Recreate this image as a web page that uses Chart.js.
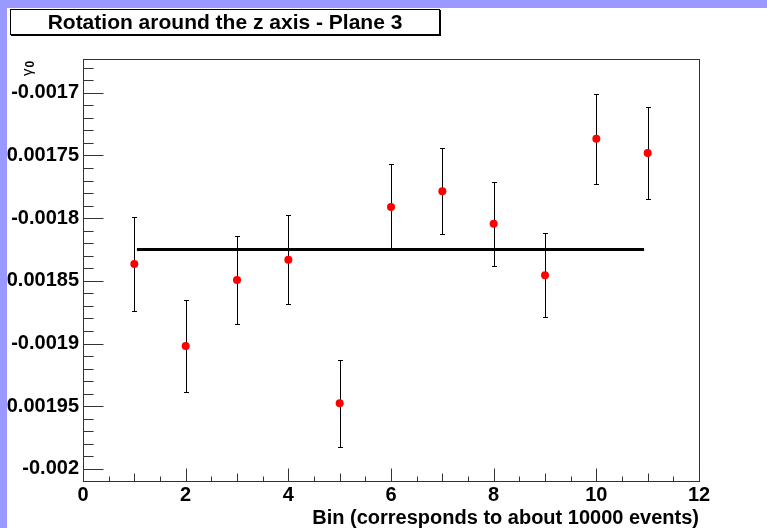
<!DOCTYPE html>
<html><head><meta charset="utf-8">
<script src="https://cdn.jsdelivr.net/npm/chart.js@4.4.1/dist/chart.umd.min.js"></script>
<style>html,body{margin:0;padding:0;background:#fff;overflow:hidden}#wrap{width:767px;height:528px;position:relative}</style>
</head><body><div id="wrap"><canvas id="c" width="767" height="528"></canvas></div>
<script>
// ---- data ----
const bins = [1, 2, 3, 4, 5, 6, 7, 8, 9, 10, 11];
const gamma0 = [-0.0018366, -0.0019019, -0.0018493, -0.0018331, -0.0019476, -0.0017911, -0.0017786, -0.0018044, -0.0018456, -0.0017367, -0.0017481];
const gamma0Err = [0.0000375, 0.0000367, 0.0000350, 0.0000354, 0.0000347, 0.0000340, 0.0000344, 0.0000336, 0.0000335, 0.0000358, 0.0000370];
const fitRange = [1.05, 10.93];
const fitValue = -0.0018251;
const xTicks = [0, 2, 4, 6, 8, 10, 12];
const xTickLabels = ['0', '2', '4', '6', '8', '10', '12'];
const yTicks = [-0.002, -0.00195, -0.0019, -0.00185, -0.0018, -0.00175, -0.0017];
const yTickLabels = ['-0.002', '-0.00195', '-0.0019', '-0.00185', '-0.0018', '-0.00175', '-0.0017'];
const xRange = [0, 12];
const yRange = [-0.0020096, -0.0016731];
const titleText = 'Rotation around the z axis - Plane 3';
const xTitle = 'Bin (corresponds to about 10000 events)';
const yTitleMain = '\u03B3';
const yTitleSub = '0';

const FONT = '"Liberation Sans", Arial, Helvetica, sans-serif';
const LAVENDER = '#9999ff';

const rootStyle = {
  id: 'rootStyle',
  beforeDatasetsDraw(chart) {
    const ctx = chart.ctx, xs = chart.scales.x, ys = chart.scales.y;
    ctx.save();
    ctx.strokeStyle = '#000';
    ctx.lineWidth = 1;
    bins.forEach((b, i) => {
      const px = Math.round(xs.getPixelForValue(b)) + 0.5;
      const y1 = Math.round(ys.getPixelForValue(gamma0[i] + gamma0Err[i])) + 0.5;
      const y2 = Math.round(ys.getPixelForValue(gamma0[i] - gamma0Err[i])) + 0.5;
      ctx.beginPath();
      ctx.moveTo(px, y1); ctx.lineTo(px, y2);
      ctx.moveTo(px - 2.5, y1); ctx.lineTo(px + 2.5, y1);
      ctx.moveTo(px - 2.5, y2); ctx.lineTo(px + 2.5, y2);
      ctx.stroke();
    });
    ctx.restore();
  },
  afterDraw(chart) {
    const ctx = chart.ctx, xs = chart.scales.x, ys = chart.scales.y, a = chart.chartArea;
    ctx.save();
    // frame
    ctx.strokeStyle = '#333';
    ctx.lineWidth = 1;
    ctx.strokeRect(Math.round(a.left) + 0.5, Math.round(a.top) + 0.5, Math.round(a.right - a.left), Math.round(a.bottom - a.top));
    // y ticks (inside, on left)
    ctx.beginPath();
    const L = Math.round(a.left) + 0.5;
    const ystep = 0.00001;
    const kmin = Math.ceil(yRange[0] / ystep - 1e-6), kmax = Math.floor(yRange[1] / ystep + 1e-6);
    for (let k = kmin; k <= kmax; k++) {
      const v = k * ystep;
      const major = Math.abs(k % 5) === 0;
      const py = Math.round(ys.getPixelForValue(v)) + 0.5;
      ctx.moveTo(L, py); ctx.lineTo(L + (major ? 20 : 10), py);
    }
    // x ticks (inside, on bottom)
    const B = Math.round(a.bottom) + 0.5;
    for (let k = xRange[0] * 2; k <= xRange[1] * 2; k++) {
      const v = k / 2;
      const len = (k % 4 === 0) ? 13 : ((k % 2 === 0) ? 8 : 5);
      const px = Math.round(xs.getPixelForValue(v)) + 0.5;
      ctx.moveTo(px, B); ctx.lineTo(px, B - len);
    }
    ctx.stroke();

    // lavender canvas border (top and left)
    ctx.fillStyle = LAVENDER;
    ctx.fillRect(0, 0, 767, 8);
    ctx.fillRect(0, 0, 7, 528);

    // title box
    ctx.fillStyle = '#fff';
    ctx.fillRect(10, 9, 430, 26);
    ctx.strokeStyle = '#000';
    ctx.lineWidth = 1;
    ctx.strokeRect(10.5, 9.5, 429, 25);
    ctx.beginPath();
    ctx.moveTo(440.5, 10); ctx.lineTo(440.5, 36);
    ctx.moveTo(11, 35.5); ctx.lineTo(441, 35.5);
    ctx.stroke();
    ctx.fillStyle = '#000';
    ctx.font = 'bold 21px ' + FONT;
    ctx.textAlign = 'center';
    ctx.textBaseline = 'middle';
    ctx.fillText(titleText, 225, 23);

    // y axis title (rotated)
    ctx.translate(32, 76);
    ctx.rotate(-Math.PI / 2);
    ctx.textAlign = 'left';
    ctx.textBaseline = 'alphabetic';
    ctx.font = '15px ' + FONT;
    ctx.fillText(yTitleMain, 0, 0);
    const w = ctx.measureText(yTitleMain).width;
    ctx.font = 'bold 12px ' + FONT;
    ctx.fillText(yTitleSub, w + 1, 2);
    ctx.restore();
  }
};

new Chart(document.getElementById('c'), {
  type: 'scatter',
  data: {
    datasets: [
      {
        label: 'gamma0',
        data: bins.map((b, i) => ({ x: b, y: gamma0[i] })),
        pointRadius: 4,
        pointHoverRadius: 4,
        pointBackgroundColor: '#ff0000',
        pointBorderWidth: 0,
        showLine: false
      },
      {
        type: 'line',
        label: 'fit',
        data: fitRange.map(x => ({ x: x, y: fitValue })),
        borderColor: '#000',
        borderWidth: 3,
        borderCapStyle: 'butt',
        pointRadius: 0,
        fill: false
      }
    ]
  },
  options: {
    responsive: false,
    animation: false,
    devicePixelRatio: 1,
    layout: { padding: { top: 59, right: 68, left: 0, bottom: 0 } },
    plugins: { legend: { display: false }, tooltip: { enabled: false }, title: { display: false } },
    scales: {
      x: {
        type: 'linear',
        min: xRange[0], max: xRange[1],
        afterBuildTicks: s => { s.ticks = xTicks.map(v => ({ value: v })); },
        afterFit: s => { s.height = 47; },
        grid: { display: false, drawTicks: false },
        border: { display: false },
        ticks: {
          autoSkip: false, maxRotation: 0, padding: 2, color: '#000',
          font: { family: FONT, weight: 'bold', size: 20 },
          callback: (v, i) => xTickLabels[i]
        },
        title: {
          display: true, text: xTitle, align: 'end', color: '#000',
          font: { family: FONT, weight: 'bold', size: 20, lineHeight: 1.0 }, padding: 0
        }
      },
      y: {
        type: 'linear',
        min: yRange[0], max: yRange[1],
        afterBuildTicks: s => { s.ticks = yTicks.map(v => ({ value: v })); },
        afterFit: s => { s.width = 83; },
        grid: { display: false, drawTicks: false },
        border: { display: false },
        ticks: {
          autoSkip: false, padding: 4, color: '#000',
          font: { family: FONT, weight: 'bold', size: 20 },
          callback: (v, i) => yTickLabels[i]
        }
      }
    }
  },
  plugins: [rootStyle]
});
</script>
</body></html>
